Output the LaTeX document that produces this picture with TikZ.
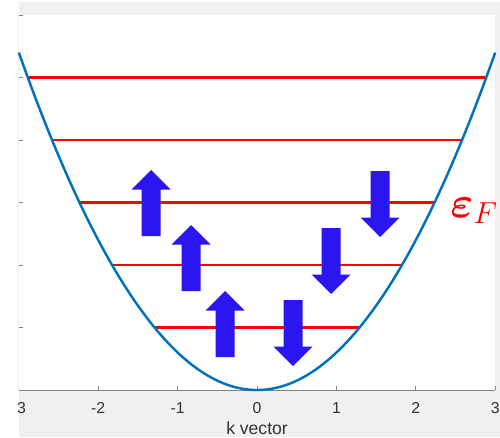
\documentclass[tikz,border=0pt]{standalone}
\usepackage{fontspec}
\setmainfont{Liberation Sans}
\usepackage{amsmath}
\usepackage{tikz}
\usepackage{xcolor}
\definecolor{figgray}{RGB}{240, 240, 240}
\definecolor{axisgray}{RGB}{130, 130, 130}
\definecolor{ticktext}{RGB}{50, 50, 50}
\definecolor{bandblue}{RGB}{0, 114, 189}
\definecolor{spinblue}{RGB}{44, 22, 240}
\definecolor{levelred}{RGB}{255, 0, 0}

\tikzset{
  level/.style={levelred, line width=1.4pt},
  band/.style={bandblue, line width=1.4pt},
  axisline/.style={axisgray, line width=0.5pt},
  ticklabel/.style={text=ticktext, font=\fontsize{9}{10}\selectfont, anchor=base, inner sep=0pt},
  spin/.pic={
    \fill[spinblue] (-0.19cm,0) -- (0.19cm,0) -- (0.19cm,0.93cm) -- (0.39cm,0.93cm)
      -- (0,1.32cm) -- (-0.39cm,0.93cm) -- (-0.19cm,0.93cm) -- cycle;
  }
}

\begin{document}
\begin{tikzpicture}[x=1.588cm, y=1.25cm]
        \useasboundingbox (-3.237,-0.752) rectangle (3.060,6.24);
        % Figure and axes background
        \fill[figgray] (-3,-0.752) rectangle (3.060,6.208);
        \fill[white] (-3,0) rectangle (3,6);

        \begin{scope}
        \clip (-3,-0.752) rectangle (3.060,6.24);
        % Axes
        \draw[axisline] (-3,6) -- (-3,0) -- (3,0);
        \foreach \e in {1,...,6}
          \draw[axisline] (-3,\e) -- ++(0.08cm,0);
        \foreach \k in {-3,...,3} {
          \draw[axisline] (\k,0) -- ++(0,0.08cm);
          \node[ticklabel] (tick\k) at (\k,-0.368) {\k};
        }
        \node[text=ticktext, font=\fontsize{10}{12}\selectfont, anchor=base, inner sep=0pt] (xlabel) at (0,-0.704) {k vector};
        \end{scope}

        % Energy levels
        \foreach \e in {1,...,5}
          \draw[level] ({-sqrt(\e/0.6)},\e) -- ({sqrt(\e/0.6)},\e);

        % Band
        \draw[band, domain=-3:3, samples=120] plot (\x, {0.6*\x*\x});

        % Spins up
        \pic at (-1.335,2.464) {spin};
        \pic at (-0.831,1.584) {spin};
        \pic at (-0.403,0.528) {spin};
        % Spins down
        \pic[rotate=180] at (0.453,1.44) {spin};
        \pic[rotate=180] at (0.932,2.592) {spin};
        \pic[rotate=180] at (1.549,3.504) {spin};

        % Label
        \node[text=levelred, font=\fontsize{25}{30}\selectfont, anchor=base west, inner sep=0pt] (fermi) at (2.431,2.768) {$\boldsymbol{\varepsilon}_F$};
    \end{tikzpicture}
\end{document}
